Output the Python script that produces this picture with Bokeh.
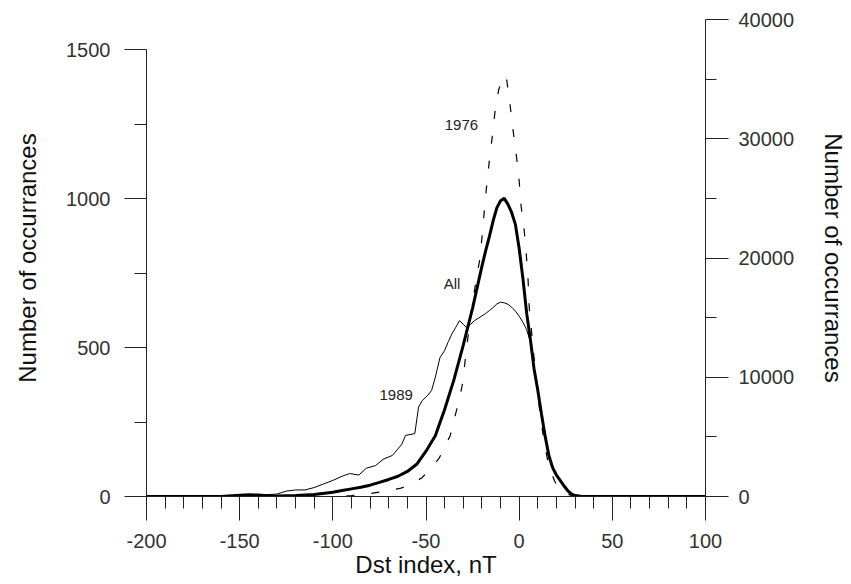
from bokeh.plotting import figure
from bokeh.models import Range1d, LinearAxis, FixedTicker
from bokeh.core.properties import value
from bokeh.embed import file_html
from bokeh.resources import INLINE

# ---- data ----
x_all = [-200, -160, -150, -145, -140, -135, -130, -120, -110, -100, -95, -90, -85, -80, -75,
         -70, -65, -60, -55, -50, -45, -40, -35, -30, -25, -20, -18, -16, -14, -12, -10, -8,
         -6, -4, -2, 0, 2, 4, 6, 8, 10, 12, 14, 16, 18, 20, 22, 24, 26, 28, 30, 33, 38, 100]
y_all = [0, 0, 100, 150, 120, 60, 50, 80, 170, 350, 500, 640, 780, 950, 1180,
         1430, 1700, 2100, 2700, 3800, 5100, 7300, 9800, 12700, 15800, 19300, 20600, 21800, 23100, 24200, 24800, 25000,
         24500, 23800, 22800, 20800, 18300, 15400, 13200, 10700, 8900, 6900, 5000, 3400, 2400, 1800, 1350, 900, 500, 220, 80, 20, 0, 0]

x_1989 = [-200, -160, -150, -140, -130, -125, -120, -115, -110, -105, -100, -95, -91, -86, -82, -77, -73,
          -68, -63, -61, -56, -54, -52, -49, -47, -45, -42.5, -40, -38, -36, -34, -32, -30, -28, -26,
          -24, -22, -20, -18, -16, -14, -12, -10, -8, -6, -4, -2, 0, 2, 4, 6, 8, 10, 12, 14, 16, 18,
          20, 22, 24, 26, 28, 30, 34, 100]
y_1989 = [0, 0, 3, 5, 8, 18, 22, 22, 30, 42, 54, 68, 77, 72, 95, 104, 125,
          138, 175, 205, 211, 300, 322, 340, 356, 400, 466, 490, 520, 547, 568, 590, 578, 565, 578,
          590, 598, 606, 614, 624, 634, 646, 652, 650, 645, 635, 622, 605, 585, 560, 520, 430, 350, 275, 200, 140, 100,
          72, 52, 36, 20, 10, 5, 0, 0]

x_1976 = [-200, -100, -90, -80, -77, -70, -64, -58, -52, -48, -43, -40, -37, -34, -32, -30.5, -29, -27,
          -25, -23, -21, -19.5, -18, -16, -14.5, -13, -11, -9, -7, -5, -3, -1.5, 0, 1, 2.7, 3.8, 4.8,
          5.4, 7, 9, 11, 13, 15, 17, 19, 21, 23, 25, 28, 32, 100]
y_1976 = [0, 0, 3, 10, 13, 20, 27, 40, 64, 90, 128, 165, 205, 280, 330, 375, 456, 560,
          650, 730, 800, 900, 1010, 1128, 1205, 1290, 1365, 1400, 1413, 1320, 1215, 1144, 1060, 977, 893, 815, 725,
          634, 530, 400, 290, 200, 130, 85, 52, 30, 18, 10, 4, 0, 0]

x_ticks = [-200, -150, -100, -50, 0, 50, 100]
x_tick_labels = ["-200", "-150", "-100", "-50", "0", "50", "100"]
x_minor = list(range(-200, 101, 10))
left_ticks = [0, 500, 1000, 1500]
left_minor = [250, 750, 1250]
right_ticks = [0, 10000, 20000, 30000, 40000]
right_minor = [5000, 15000, 25000, 35000]

labels_text = ["1976", "All", "1989"]
labels_x = [-31, -36, -66]
labels_y = [1245, 715, 342]

FONT = "Liberation Sans"

p = figure(width=851, height=584, output_backend="svg", toolbar_location=None,
           x_range=Range1d(-200, 100), y_range=Range1d(0, 1600.7),
           min_border_left=146, min_border_right=146, min_border_top=19, min_border_bottom=88)
p.extra_y_ranges = {"right": Range1d(0, 40000)}
p.outline_line_color = None
p.grid.visible = False
p.background_fill_color = "white"
p.border_fill_color = "white"

p.add_layout(LinearAxis(y_range_name="right"), "right")


def style(ax, tick_out, minor_out, standoff, label_standoff):
    ax.axis_line_color = "#222222"
    ax.axis_line_width = 1
    ax.major_tick_line_color = "#222222"
    ax.minor_tick_line_color = "#222222"
    ax.major_tick_in = 0
    ax.major_tick_out = tick_out
    ax.minor_tick_in = 0
    ax.minor_tick_out = minor_out
    ax.major_label_standoff = standoff
    ax.major_label_text_font = FONT
    ax.major_label_text_font_size = "20px"
    ax.major_label_text_color = "#333333"
    ax.axis_label_text_font = FONT
    ax.axis_label_text_font_size = "24px"
    ax.axis_label_text_font_style = "normal"
    ax.axis_label_text_color = "#111111"
    ax.axis_label_standoff = label_standoff


xa = p.xaxis[0]
xa.ticker = FixedTicker(ticks=x_ticks, minor_ticks=x_minor)
xa.major_label_overrides = {t: s for t, s in zip(x_ticks, x_tick_labels)}
xa.axis_label = "Dst index, nT"
style(xa, 24, 12, 13, 0)

ya = p.yaxis[0]
ya.ticker = FixedTicker(ticks=left_ticks, minor_ticks=left_minor)
ya.axis_label = "Number of occurrances"
ya.bounds = (0, 1500)
style(ya, 22, 12, 14, 22)

ra = p.right[0]
ra.ticker = FixedTicker(ticks=right_ticks, minor_ticks=right_minor)
ra.axis_label = "Number of occurrances"
style(ra, 23, 11, 10, 23)

p.line(x_1976, y_1976, line_color="black", line_width=1.2, line_dash="8 17")
p.line(x_1989, y_1989, line_color="black", line_width=1)
p.line(x_all, y_all, line_color="black", line_width=3, y_range_name="right")

p.text(x=labels_x, y=labels_y, text=labels_text, text_font=value(FONT), text_font_size="15px",
       text_align="center", text_baseline="middle", text_color="#222222")

open("out.html", "w").write(file_html(p, INLINE))
